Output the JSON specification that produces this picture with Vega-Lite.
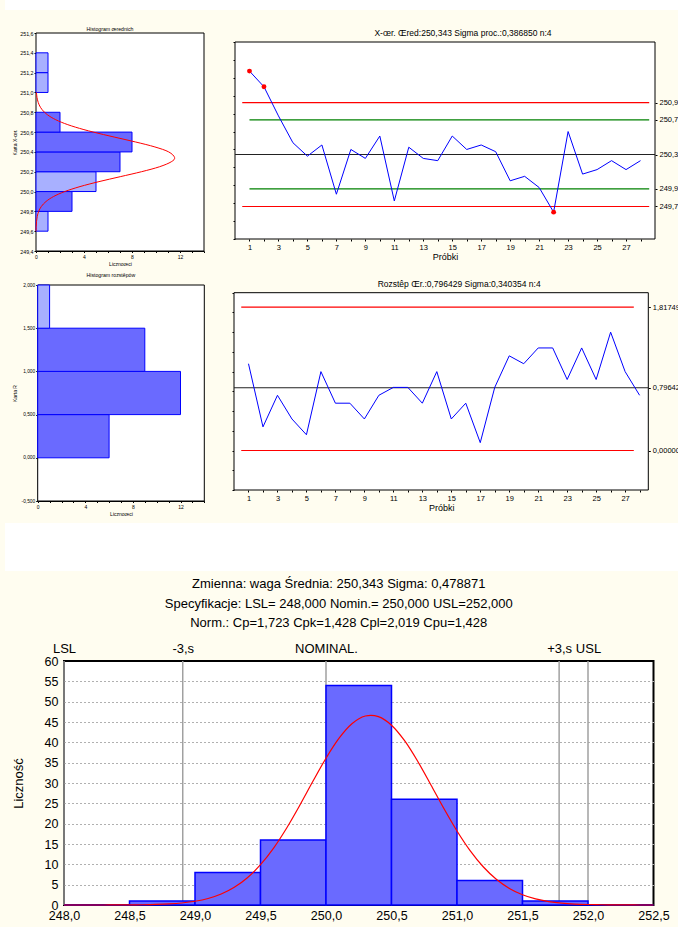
{
 "$schema": "https://vega.github.io/schema/vega-lite/v6.json",
 "background": "#fffdf0",
 "padding": {"left": 5, "top": 0, "right": 0, "bottom": 6},
 "spacing": 6,
 "config": {
  "font": "Liberation Sans",
  "view": {"fill": "white", "stroke": "black", "strokeWidth": 1},
  "axis": {"labelFont": "Liberation Sans", "titleFont": "Liberation Sans", "labelColor": "black", "titleColor": "black", "titleFontWeight": "normal", "domainColor": "black", "tickColor": "black", "labelFlush": false, "labelOverlap": false, "grid": false},
  "title": {"font": "Liberation Sans", "color": "black", "fontWeight": "normal"}
 },
 "datasets": {
  "xbar": [
   {"s":1,"v":251.275,"o":1},{"s":2,"v":251.1,"o":1},{"s":3,"v":250.775,"o":0},{"s":4,"v":250.475,"o":0},
   {"s":5,"v":250.325,"o":0},{"s":6,"v":250.45,"o":0},{"s":7,"v":249.9,"o":0},{"s":8,"v":250.4,"o":0},
   {"s":9,"v":250.3,"o":0},{"s":10,"v":250.55,"o":0},{"s":11,"v":249.825,"o":0},{"s":12,"v":250.425,"o":0},
   {"s":13,"v":250.3,"o":0},{"s":14,"v":250.275,"o":0},{"s":15,"v":250.55,"o":0},{"s":16,"v":250.4,"o":0},
   {"s":17,"v":250.45,"o":0},{"s":18,"v":250.375,"o":0},{"s":19,"v":250.05,"o":0},{"s":20,"v":250.1,"o":0},
   {"s":21,"v":249.975,"o":0},{"s":22,"v":249.7,"o":1},{"s":23,"v":250.6,"o":0},{"s":24,"v":250.125,"o":0},
   {"s":25,"v":250.175,"o":0},{"s":26,"v":250.275,"o":0},{"s":27,"v":250.175,"o":0},{"s":28,"v":250.275,"o":0}
  ],
  "rng": [
   {"s":1,"r":1.1},{"s":2,"r":0.3},{"s":3,"r":0.7},{"s":4,"r":0.4},{"s":5,"r":0.2},{"s":6,"r":1.0},{"s":7,"r":0.6},
   {"s":8,"r":0.6},{"s":9,"r":0.4},{"s":10,"r":0.7},{"s":11,"r":0.8},{"s":12,"r":0.8},{"s":13,"r":0.6},{"s":14,"r":1.0},
   {"s":15,"r":0.4},{"s":16,"r":0.6},{"s":17,"r":0.1},{"s":18,"r":0.8},{"s":19,"r":1.2},{"s":20,"r":1.1},{"s":21,"r":1.3},
   {"s":22,"r":1.3},{"s":23,"r":0.9},{"s":24,"r":1.3},{"s":25,"r":0.9},{"s":26,"r":1.5},{"s":27,"r":1.0},{"s":28,"r":0.7}
  ],
  "histx": [
   {"lo":249.6,"hi":249.8,"n":1,"t":"b"},{"lo":249.8,"hi":250.0,"n":3,"t":"a"},{"lo":250.0,"hi":250.2,"n":5,"t":"b"},
   {"lo":250.2,"hi":250.4,"n":7,"t":"a"},{"lo":250.4,"hi":250.6,"n":8,"t":"a"},{"lo":250.6,"hi":250.8,"n":2,"t":"a"},
   {"lo":251.0,"hi":251.2,"n":1,"t":"b"},{"lo":251.2,"hi":251.4,"n":1,"t":"b"}
  ],
  "curvex": [
   {"v":249.6,"f":0.0072},{"v":249.65,"f":0.0188},{"v":249.7,"f":0.046},{"v":249.75,"f":0.105},{"v":249.8,"f":0.2245},
   {"v":249.85,"f":0.4487},{"v":249.9,"f":0.8387},{"v":249.95,"f":1.466},{"v":250.0,"f":2.3976},{"v":250.05,"f":3.667},
   {"v":250.1,"f":5.246},{"v":250.15,"f":7.021},{"v":250.2,"f":8.788},{"v":250.25,"f":10.289},{"v":250.3,"f":11.268},
   {"v":250.343,"f":11.55},{"v":250.4,"f":11.059},{"v":250.45,"f":9.911},{"v":250.5,"f":8.308},{"v":250.55,"f":6.514},
   {"v":250.6,"f":4.778},{"v":250.65,"f":3.278},{"v":250.7,"f":2.103},{"v":250.75,"f":1.262},{"v":250.8,"f":0.7086},
   {"v":250.85,"f":0.372},{"v":250.9,"f":0.1827},{"v":250.95,"f":0.0839},{"v":251.0,"f":0.0361}
  ],
  "histr": [
   {"lo":0,"hi":0.5,"n":6,"t":"a"},{"lo":0.5,"hi":1.0,"n":12,"t":"a"},{"lo":1.0,"hi":1.5,"n":9,"t":"a"},{"lo":1.5,"hi":2.0,"n":1,"t":"b"}
  ],
  "limx": [
   {"y":250.923,"a":0.5,"b":28.6,"k":"lim"},{"y":249.763,"a":0.5,"b":28.6,"k":"lim"},
   {"y":250.73,"a":1,"b":28.6,"k":"warn"},{"y":249.96,"a":1,"b":28.6,"k":"warn"},
   {"y":250.343,"a":0,"b":29,"k":"center"}
  ],
  "limr": [
   {"y":1.81749,"a":0.5,"b":27.6,"k":"lim"},{"y":0,"a":0.5,"b":27.6,"k":"lim"},{"y":0.796429,"a":0,"b":28.6,"k":"center"}
  ],
  "bins": [
   {"lo":248.0,"hi":248.5,"n":0},{"lo":248.5,"hi":249.0,"n":1},{"lo":249.0,"hi":249.5,"n":8},{"lo":249.5,"hi":250.0,"n":16},
   {"lo":250.0,"hi":250.5,"n":54},{"lo":250.5,"hi":251.0,"n":26},{"lo":251.0,"hi":251.5,"n":6},{"lo":251.5,"hi":252.0,"n":1},
   {"lo":252.0,"hi":252.5,"n":0}
  ],
  "speclines": [
   {"pos":248.0,"lab":"LSL"},{"pos":248.9064,"lab":"-3,s"},{"pos":250.0,"lab":"NOMINAL."},{"pos":251.7796,"lab":"+3,s"},{"pos":252.0,"lab":"USL"}
  ],
  "curveb": [
   {"v":248.0,"f":0.0003},{"v":248.1,"f":0.0008},{"v":248.2,"f":0.0021},{"v":248.3,"f":0.0052},{"v":248.4,"f":0.0124},
   {"v":248.5,"f":0.0283},{"v":248.6,"f":0.0619},{"v":248.7,"f":0.1296},{"v":248.8,"f":0.2595},{"v":248.9,"f":0.4979},
   {"v":249.0,"f":0.914},{"v":249.1,"f":1.6064},{"v":249.2,"f":2.7034},{"v":249.3,"f":4.3537},{"v":249.4,"f":6.7124},
   {"v":249.5,"f":9.908},{"v":249.6,"f":14.0},{"v":249.7,"f":18.941},{"v":249.8,"f":24.528},{"v":249.9,"f":30.413},
   {"v":250.0,"f":36.097},{"v":250.1,"f":41.018},{"v":250.2,"f":44.619},{"v":250.3,"f":46.465},{"v":250.343,"f":46.653},
   {"v":250.4,"f":46.324},{"v":250.5,"f":44.212},{"v":250.6,"f":40.395},{"v":250.7,"f":35.334},{"v":250.8,"f":29.589},
   {"v":250.9,"f":23.718},{"v":251.0,"f":18.203},{"v":251.1,"f":13.373},{"v":251.2,"f":9.408},{"v":251.3,"f":6.333},
   {"v":251.4,"f":4.082},{"v":251.5,"f":2.519},{"v":251.6,"f":1.488},{"v":251.7,"f":0.8419},{"v":251.8,"f":0.4557},
   {"v":251.9,"f":0.2362},{"v":252.0,"f":0.117},{"v":252.1,"f":0.0557},{"v":252.2,"f":0.0253},{"v":252.3,"f":0.011},
   {"v":252.4,"f":0.0046},{"v":252.5,"f":0.0018}
  ]
 },
 "vconcat": [
  {"width": 614, "height": 10, "view": {"stroke": null, "fill": "transparent"}, "data": {"values": [{"g": 1}]},
   "mark": {"type": "rect", "fill": "white"},
   "encoding": {"x": {"datum": 0, "type": "quantitative", "scale": {"domain": [0, 1], "range": [-59, 614]}, "axis": null}, "x2": {"datum": 1}}},
  {
   "spacing": 0,
   "hconcat": [
    {
     "width": 118, "height": 218,
     "view": {"stroke": null, "fill": "transparent"},
     "title": {"text": ["", "Histogram œrednich"], "fontSize": 5.2, "lineHeight": 10.8, "offset": -1, "dx": -13},
     "resolve": {"axis": {"x": "independent", "y": "independent"}},
     "layer": [
      {"data": {"values": [{"g": 1}]}, "mark": {"type": "rect", "fill": "white", "stroke": "black", "strokeWidth": 1},
       "encoding": {
        "x": {"datum": 0, "type": "quantitative", "scale": {"domain": [0, 14], "range": [-28, 140], "nice": false}, "axis": null},
        "x2": {"datum": 14},
        "y": {"datum": 249.4, "type": "quantitative", "scale": {"domain": [249.4, 251.6], "nice": false, "zero": false}, "axis": null},
        "y2": {"datum": 251.6}
       }},
      {"data": {"name": "histx"}, "mark": {"type": "rect", "stroke": "#0000ff", "strokeWidth": 1},
       "encoding": {
        "y": {"field": "lo", "type": "quantitative", "title": "Karta X-œr.", "scale": {"domain": [249.4, 251.6], "nice": false, "zero": false},
              "axis": {"offset": 28, "values": [249.4,249.6,249.8,250.0,250.2,250.4,250.6,250.8,251.0,251.2,251.4,251.6], "labelExpr": "replace(format(datum.value, '.1f'), '.', ',')", "labelOverlap": false, "labelFontSize": 5.3, "tickSize": 2, "labelPadding": 1, "titleFontSize": 5, "titlePadding": 2.5, "domainColor": "#5c1f5c"}},
        "y2": {"field": "hi"},
        "x": {"field": "n", "type": "quantitative", "title": "Licznoœci", "scale": {"domain": [0, 14], "range": [-28, 140], "nice": false},
              "axis": {"values": [0,1,2,3,4,5,6,7,8,9,10,11,12,13,14], "labelExpr": "datum.value % 4 == 0 ? datum.label : ''", "labelOverlap": false, "labelFontSize": 5, "tickSize": 1.5, "labelPadding": 2, "titleFontSize": 5, "titlePadding": 2}},
        "x2": {"datum": 0},
        "fill": {"field": "t", "type": "nominal", "scale": {"domain": ["a", "b"], "range": ["#6a6aff", "#a8b0ff"]}, "legend": null}
       }},
      {"data": {"name": "curvex"}, "mark": {"type": "line", "color": "#ff0000", "strokeWidth": 1, "interpolate": "cardinal"},
       "encoding": {
        "x": {"field": "f", "type": "quantitative", "scale": {"domain": [0, 14], "range": [-28, 140], "nice": false}, "axis": null},
        "y": {"field": "v", "type": "quantitative", "scale": {"domain": [249.4, 251.6], "nice": false, "zero": false}, "axis": null},
        "order": {"field": "v", "type": "quantitative"}
       }}
     ]
    },
    {
     "width": 420, "height": 206,
     "view": {"stroke": null, "fill": "transparent"},
     "title": {"text": "X-œr. Œred:250,343  Sigma proc.:0,386850 n:4", "fontSize": 8.5, "offset": -4, "dx": 18},
     "resolve": {"axis": {"x": "independent", "y": "independent"}},
     "layer": [
      {"data": {"values": [{"g": 1}]}, "mark": {"type": "rect", "fill": "white", "stroke": "black", "strokeWidth": 1},
       "encoding": {
        "x": {"datum": 0, "type": "quantitative", "scale": {"domain": [0, 29], "nice": false}, "axis": null},
        "x2": {"datum": 29},
        "y": {"datum": 249.4, "type": "quantitative", "scale": {"domain": [249.4, 251.6], "range": [206, 9], "nice": false, "zero": false}, "axis": null},
        "y2": {"datum": 251.6}
       }},
      {"data": {"name": "limx"}, "mark": {"type": "rule", "strokeWidth": 1.1},
       "encoding": {
        "y": {"field": "y", "type": "quantitative", "scale": {"domain": [249.4, 251.6], "range": [206, 9], "nice": false, "zero": false},
              "axis": {"orient": "right", "values": [249.763, 249.96, 250.343, 250.73, 250.923], "labelExpr": "replace(toString(datum.value), '.', ',')", "labelOverlap": false, "labelFontSize": 7.5, "tickSize": 2, "labelPadding": 2, "title": null, "domain": false}},
        "x": {"field": "a", "type": "quantitative", "scale": {"domain": [0, 29], "nice": false}, "axis": null},
        "x2": {"field": "b"},
        "color": {"field": "k", "type": "nominal", "scale": {"domain": ["lim", "warn", "center"], "range": ["#ff0000", "#008000", "#222222"]}, "legend": null}
       }},
      {"data": {"name": "xbar"}, "mark": {"type": "line", "color": "#0000ff", "strokeWidth": 1},
       "encoding": {
        "x": {"field": "s", "type": "quantitative", "scale": {"domain": [0, 29], "nice": false},
              "axis": {"values": [1,2,3,4,5,6,7,8,9,10,11,12,13,14,15,16,17,18,19,20,21,22,23,24,25,26,27,28], "labelExpr": "datum.value % 2 == 1 ? datum.label : ''", "labelOverlap": false, "labelFontSize": 7.5, "tickSize": 2, "labelPadding": 2, "title": "Próbki", "titleFontSize": 9, "titlePadding": 2, "domain": false}},
        "y": {"field": "v", "type": "quantitative", "scale": {"domain": [249.4, 251.6], "range": [206, 9], "nice": false, "zero": false},
              "axis": {"orient": "left", "values": [249.4,249.6,249.8,250.0,250.2,250.4,250.6,250.8,251.0,251.2,251.4,251.6], "labels": false, "tickSize": 2, "title": null, "domain": false}}
       }},
      {"data": {"name": "xbar"}, "transform": [{"filter": "datum.o == 1"}], "mark": {"type": "circle", "color": "#ff0000", "opacity": 1, "size": 24},
       "encoding": {
        "x": {"field": "s", "type": "quantitative", "scale": {"domain": [0, 29], "nice": false}, "axis": null},
        "y": {"field": "v", "type": "quantitative", "scale": {"domain": [249.4, 251.6], "range": [206, 9], "nice": false, "zero": false}, "axis": null}
       }}
     ]
    }
   ]
  },
  {
   "spacing": 0,
   "hconcat": [
    {
     "width": 119.7, "height": 216,
     "view": {"stroke": null, "fill": "transparent"},
     "title": {"text": "Histogram rozstêpów", "fontSize": 5.2, "offset": 3.4, "dx": -13},
     "resolve": {"axis": {"x": "independent", "y": "independent"}},
     "layer": [
      {"data": {"values": [{"g": 1}]}, "mark": {"type": "rect", "fill": "white", "stroke": "black", "strokeWidth": 1},
       "encoding": {
        "x": {"datum": 0, "type": "quantitative", "scale": {"domain": [0, 14], "range": [-26.3, 140.3], "nice": false}, "axis": null},
        "x2": {"datum": 14},
        "y": {"datum": -0.5, "type": "quantitative", "scale": {"domain": [-0.5, 2.0], "nice": false, "zero": false}, "axis": null},
        "y2": {"datum": 2.0}
       }},
      {"data": {"name": "histr"}, "mark": {"type": "rect", "stroke": "#0000ff", "strokeWidth": 1},
       "encoding": {
        "y": {"field": "lo", "type": "quantitative", "title": "Karta R", "scale": {"domain": [-0.5, 2.0], "nice": false, "zero": false},
              "axis": {"offset": 26.3, "values": [-0.5, 0, 0.5, 1.0, 1.5, 2.0], "labelExpr": "replace(replace(format(datum.value, '.3f'), '.', ','), '−', '-')", "labelOverlap": false, "labelFontSize": 4.8, "tickSize": 2, "labelPadding": 1, "titleFontSize": 5, "titlePadding": 4, "domainColor": "#1f1f5c"}},
        "y2": {"field": "hi"},
        "x": {"field": "n", "type": "quantitative", "title": "Licznoœci", "scale": {"domain": [0, 14], "range": [-26.3, 140.3], "nice": false},
              "axis": {"values": [0,1,2,3,4,5,6,7,8,9,10,11,12,13,14], "labelExpr": "datum.value % 4 == 0 ? datum.label : ''", "labelOverlap": false, "labelFontSize": 5, "tickSize": 1.5, "labelPadding": 2, "titleFontSize": 5, "titlePadding": 2}},
        "x2": {"datum": 0},
        "fill": {"field": "t", "type": "nominal", "scale": {"domain": ["a", "b"], "range": ["#6a6aff", "#a8b0ff"]}, "legend": null}
       }}
     ]
    },
    {
     "width": 414.3, "height": 205,
     "view": {"stroke": null, "fill": "transparent"},
     "title": {"text": "Rozstêp Œr.:0,796429 Sigma:0,340354 n:4", "fontSize": 8.5, "offset": -3, "dx": 18},
     "resolve": {"axis": {"x": "independent", "y": "independent"}},
     "layer": [
      {"data": {"values": [{"g": 1}]}, "mark": {"type": "rect", "fill": "white", "stroke": "black", "strokeWidth": 1},
       "encoding": {
        "x": {"datum": 0, "type": "quantitative", "scale": {"domain": [0, 28.6], "nice": false}, "axis": null},
        "x2": {"datum": 28.6},
        "y": {"datum": -0.5, "type": "quantitative", "scale": {"domain": [-0.5, 2.0], "range": [205, 7.7], "nice": false, "zero": false}, "axis": null},
        "y2": {"datum": 2.0}
       }},
      {"data": {"name": "limr"}, "mark": {"type": "rule", "strokeWidth": 1.1},
       "encoding": {
        "y": {"field": "y", "type": "quantitative", "scale": {"domain": [-0.5, 2.0], "range": [205, 7.7], "nice": false, "zero": false},
              "axis": {"orient": "right", "values": [0, 0.796429, 1.81749], "labelExpr": "datum.value == 0 ? '0,00000' : replace(toString(datum.value), '.', ',')", "labelOverlap": false, "labelFontSize": 7.5, "tickSize": 2, "labelPadding": 2, "title": null, "domain": false}},
        "x": {"field": "a", "type": "quantitative", "scale": {"domain": [0, 28.6], "nice": false}, "axis": null},
        "x2": {"field": "b"},
        "color": {"field": "k", "type": "nominal", "scale": {"domain": ["lim", "center"], "range": ["#ff0000", "#222222"]}, "legend": null}
       }},
      {"data": {"name": "rng"}, "mark": {"type": "line", "color": "#0000ff", "strokeWidth": 1},
       "encoding": {
        "x": {"field": "s", "type": "quantitative", "scale": {"domain": [0, 28.6], "nice": false},
              "axis": {"values": [1,2,3,4,5,6,7,8,9,10,11,12,13,14,15,16,17,18,19,20,21,22,23,24,25,26,27,28], "labelExpr": "datum.value % 2 == 1 ? datum.label : ''", "labelOverlap": false, "labelFontSize": 7.5, "tickSize": 2, "labelPadding": 2, "title": "Próbki", "titleFontSize": 9, "titlePadding": 2, "domain": false}},
        "y": {"field": "r", "type": "quantitative", "scale": {"domain": [-0.5, 2.0], "range": [205, 7.7], "nice": false, "zero": false},
              "axis": {"orient": "left", "values": [-0.5,-0.25,0,0.25,0.5,0.75,1.0,1.25,1.5,1.75,2.0], "labels": false, "tickSize": 2, "title": null, "domain": false}}
       }}
     ]
    }
   ]
  },
  {"width": 614, "height": 48, "view": {"stroke": null, "fill": "transparent"}, "data": {"values": [{"g": 1}]},
   "mark": {"type": "rect", "fill": "white"},
   "encoding": {"x": {"datum": 0, "type": "quantitative", "scale": {"domain": [0, 1], "range": [-59, 614]}, "axis": null}, "x2": {"datum": 1}}},
  {
   "width": 589.5, "height": 244,
   "view": {"strokeWidth": 2},
   "title": {"text": ["Zmienna: waga Średnia: 250,343 Sigma: 0,478871", "Specyfikacje: LSL= 248,000 Nomin.= 250,000 USL=252,000", "Norm.: Cp=1,723 Cpk=1,428 Cpl=2,019 Cpu=1,428"], "fontSize": 13, "lineHeight": 19.5, "offset": 12, "dx": -20},
   "resolve": {"axis": {"x": "independent", "y": "independent"}},
   "layer": [
    {"data": {"name": "speclines"}, "mark": {"type": "rule", "color": "#a0a0a0", "strokeWidth": 1.5},
     "encoding": {
      "x": {"field": "pos", "type": "quantitative", "scale": {"domain": [248, 252.5], "nice": false, "zero": false},
            "axis": {"orient": "top", "values": [248, 248.9064, 250, 251.7796, 252], "labelExpr": "datum.value == 248 ? 'LSL' : datum.value < 249 ? '-3,s' : datum.value == 250 ? 'NOMINAL.' : datum.value < 252 ? '+3,s' : 'USL'", "labelOverlap": false, "ticks": false, "domain": false, "labelFontSize": 13, "labelPadding": 6, "title": null}}
     }},
    {"data": {"name": "bins"}, "mark": {"type": "rect", "fill": "#6a6aff", "stroke": "#0000ff", "strokeWidth": 1.5},
     "encoding": {
      "x": {"field": "lo", "type": "quantitative", "scale": {"domain": [248, 252.5], "nice": false, "zero": false},
            "axis": {"values": [248, 248.5, 249, 249.5, 250, 250.5, 251, 251.5, 252, 252.5], "labelExpr": "replace(format(datum.value, '.1f'), '.', ',')", "labelOverlap": false, "labelFontSize": 12.5, "ticks": false, "labelPadding": 4, "title": null, "domain": false}},
      "x2": {"field": "hi"},
      "y": {"field": "n", "type": "quantitative", "scale": {"domain": [0, 60], "nice": false},
            "axis": {"values": [0,5,10,15,20,25,30,35,40,45,50,55,60], "labelOverlap": false, "labelFontSize": 12.5, "ticks": false, "labelPadding": 6, "title": "Liczność", "titleFontSize": 13, "titlePadding": 19, "domain": false}},
      "y2": {"datum": 0}
     }},
    {"data": {"name": "curveb"}, "mark": {"type": "line", "color": "#ff0000", "strokeWidth": 1.2, "interpolate": "monotone"},
     "encoding": {
      "x": {"field": "v", "type": "quantitative", "scale": {"domain": [248, 252.5], "nice": false, "zero": false}, "axis": null},
      "y": {"field": "f", "type": "quantitative", "scale": {"domain": [0, 60], "nice": false},
            "axis": {"orient": "right", "values": [5,10,15,20,25,30,35,40,45,50,55], "labels": false, "ticks": false, "grid": true, "gridColor": "#b0b0b0", "gridDash": [2, 2], "title": null, "domain": false}}
     }}
   ]
  }
 ]
}
